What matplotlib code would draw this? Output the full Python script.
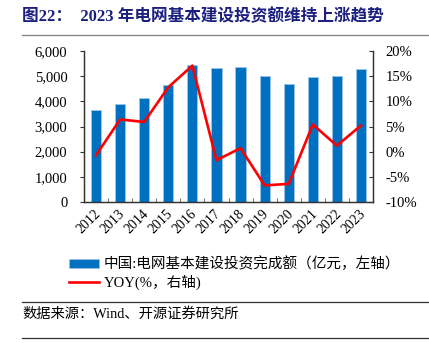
import numpy as np
import matplotlib.pyplot as plt
from matplotlib.lines import Line2D
from matplotlib.patches import Patch

years = ['2012', '2013', '2014', '2015', '2016', '2017', '2018', '2019', '2020', '2021', '2022', '2023']
invest = [3661, 3894, 4118, 4640, 5431, 5315, 5373, 5012, 4699, 4951, 5012, 5275]
yoy = [-0.7, 6.4, 5.9, 12.8, 17.1, -1.7, 0.7, -6.7, -6.4, 5.4, 1.2, 5.2]

fonts = ['Liberation Serif', 'Noto Sans CJK SC']
plt.rcParams['font.family'] = fonts
plt.rcParams['axes.unicode_minus'] = False

fig = plt.figure(figsize=(4.29, 3.43), dpi=100)
W, H = 429, 343

ax = fig.add_axes([84 / W, 1 - 202 / H, (373 - 84) / W, (202 - 51) / H])
x = np.arange(len(years))
ax.bar(x, invest, width=0.42, color='#0070C0', edgecolor='#9DC3E6', linewidth=0.6, zorder=2)
ax.set_xlim(-0.5, len(years) - 0.5)
ax.set_ylim(0, 6000)
ax.set_yticks(range(0, 6001, 1000))
ax.set_yticklabels([f'{v:,}' for v in range(0, 6001, 1000)], fontsize=10.5)
ax.set_xticks(x + 0.1)
ax.set_xticklabels(years, rotation=45, fontsize=10, ha='right', va='center', rotation_mode='anchor')
ax.tick_params(axis='x', length=0, pad=7)
ax.set_xticks(np.arange(-0.5, len(years), 1), minor=True)
ax.tick_params(axis='x', which='minor', direction='in', length=3, color='#555555')
ax.tick_params(axis='y', direction='out', length=3, color='#333333', pad=9)
ax.spines['top'].set_visible(False)
for s in ['left', 'bottom', 'right']:
    ax.spines[s].set_color('#333333')
    ax.spines[s].set_linewidth(0.9)

ax2 = ax.twinx()
ax2.plot(x, yoy, color='#FF0000', linewidth=1.9, zorder=3)
ax2.set_ylim(-10, 20)
ax2.set_yticks(range(-10, 21, 5))
ax2.set_yticklabels([f'{v}%' for v in range(-10, 21, 5)], fontsize=10.5)
ax2.tick_params(axis='y', direction='in', length=3, color='#333333', pad=9)
ax2.spines['top'].set_visible(False)
for s in ['left', 'bottom', 'right']:
    ax2.spines[s].set_color('#333333')
    ax2.spines[s].set_linewidth(0.9)

# title
fig.text(22 / W, 1 - 17 / H, '图22：  2023 年电网基本建设投资额维持上涨趋势', fontsize=12,
         fontweight='bold', color='#1A1F80', va='center', ha='left')
fig.add_artist(Line2D([22 / W, 1], [1 - 35 / H] * 2, color='#888888', linewidth=1.0))

# legend
handles = [Patch(facecolor='#0070C0', edgecolor='#9DC3E6', linewidth=0.5),
           Line2D([0], [0], color='#FF0000', linewidth=1.9)]
labels = ['中国:电网基本建设投资完成额（亿元，左轴）', 'YOY(%，右轴)']
fig.legend(handles, labels, loc='upper left', bbox_to_anchor=(63 / W, 1 - 251 / H),
           frameon=False, fontsize=10.5, handlelength=2.1, handleheight=0.5,
           handletextpad=0.3, labelspacing=0.2, borderaxespad=0)

# source
fig.add_artist(Line2D([22 / W, 1], [1 - 302 / H] * 2, color='#333333', linewidth=0.9))
fig.text(22 / W, 1 - 314 / H, '数据来源：Wind、开源证券研究所', fontsize=10.3, va='center', ha='left')
fig.add_artist(Line2D([22 / W, 1], [1 - 338 / H] * 2, color='#333333', linewidth=0.9))

fig.savefig('out.png', dpi=100)
